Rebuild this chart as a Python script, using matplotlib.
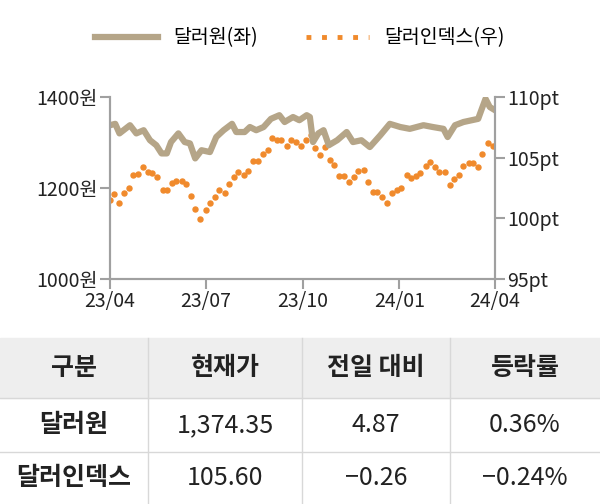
import matplotlib
matplotlib.use("Agg")
import matplotlib.pyplot as plt
import numpy as np
import datetime as dt
from matplotlib.patches import Rectangle
from matplotlib.lines import Line2D

plt.rcParams['font.family'] = ['Noto Sans CJK JP','Noto Sans CJK KR','Noto Sans CJK SC','DejaVu Sans']

krw_days = [0,5,9,19,25,32,38,44,49,54,58,65,71,76,81,87,95,101,108,116,120,128,133,139,146,153,161,166,174,180,187,190,193,198,203,208,216,225,231,239,247,257,266,276,285,298,307,317,321,328,336,344,350,353,357,361,366]
krw = [1338,1341,1320,1338,1320,1327,1305,1294,1276,1276,1301,1320,1301,1298,1265,1283,1279,1312,1327,1341,1323,1323,1334,1327,1334,1352,1360,1345,1356,1349,1360,1356,1301,1320,1327,1294,1305,1323,1301,1305,1290,1316,1341,1334,1330,1338,1334,1330,1312,1338,1345,1349,1352,1371,1396,1378,1371]
dxy = [101.50,101.97,101.23,102.05,102.51,103.61,103.64,104.24,103.83,103.75,103.42,102.32,102.32,102.93,103.09,103.06,102.79,101.83,100.73,99.91,100.68,101.23,101.72,102.32,102.05,102.87,103.42,103.78,103.56,103.89,104.71,104.71,105.34,105.61,106.65,106.49,106.44,105.94,106.49,106.30,105.94,106.49,106.85,105.83,105.20,105.89,104.79,104.38,103.50,103.47,103.01,103.42,103.91,104.02,102.98,102.13,102.19,101.72,101.23,102.10,102.32,102.46,103.56,103.36,103.47,103.75,104.30,104.65,104.24,103.83,103.83,102.73,103.23,103.56,104.30,104.52,104.52,104.19,105.28,106.22,105.97]
xticks = ["23/04","23/07","23/10","24/01","24/04"]
tick_dates = ["2023-04-01","2023-07-01","2023-10-01","2024-01-01","2024-04-01"]
header = ["구분","현재가","전일 대비","등락률"]
rows = [["달러원","1,374.35","4.87","0.36%"],["달러인덱스","105.60","\u22120.26","\u22120.24%"]]

start = dt.date(2023,4,1)
kx = [start+dt.timedelta(days=d) for d in krw_days]
dx = [start+dt.timedelta(days=float(d)) for d in np.linspace(0,364,len(dxy))]

fig = plt.figure(figsize=(6,5.04), dpi=100)
ax = fig.add_axes([110/600, 1-279/504, 385/600, 182/504])
ax2 = ax.twinx()
ax.set_zorder(ax2.get_zorder()+1); ax.patch.set_visible(False)
ax.plot(kx, krw, color='#b5a588', lw=4.5, zorder=2, label='달러원(좌)')
ax2.plot(dx, dxy, ls='none', marker='o', ms=3.6, color='#f08a2c', label='달러인덱스(우)')
ax.set_ylim(1000,1400); ax2.set_ylim(95,110)
ax.set_yticks([1000,1200,1400]); ax.set_yticklabels([f"{v}원" for v in [1000,1200,1400]])
ax2.set_yticks([95,100,105,110]); ax2.set_yticklabels([f"{v}pt" for v in [95,100,105,110]])
td = [dt.datetime.strptime(s,"%Y-%m-%d").date() for s in tick_dates]
ax.set_xticks(td); ax.set_xticklabels(xticks)
ax.set_xlim(td[0], td[-1])
for a in (ax, ax2):
    for s in a.spines.values(): s.set_color('#a0a0a0'); s.set_linewidth(1.5)
    a.spines['top'].set_visible(False)
    a.tick_params(colors='#a0a0a0', labelcolor='#222222', labelsize=14, length=7, width=1.5, pad=2)
hh = [Line2D([],[],color='#b5a588',lw=4.5), Line2D([],[],color='#f08a2c',ls=(0,(1,2.2)),lw=3.5)]
fig.legend(hh, ['달러원(좌)','달러인덱스(우)'], loc='center', bbox_to_anchor=(0.5, 1-38/504), ncol=2, frameon=False, fontsize=14, handlelength=3.2, columnspacing=2.5)

rowy = [338, 398, 452, 504]
colx = [0, 148, 302, 450, 600]
fig.patches.append(Rectangle((0, 1-398/504), 1, 60/504, transform=fig.transFigure, color='#eeeeee', zorder=0))
for x in colx[1:-1]:
    fig.add_artist(Line2D([x/600,x/600],[1-338/504,0], transform=fig.transFigure, color='#d8d8d8', lw=1))
for y in rowy[1:3]:
    fig.add_artist(Line2D([0,1],[1-y/504]*2, transform=fig.transFigure, color='#d8d8d8', lw=1))
for r, row in enumerate([header]+rows):
    yc = 1-(rowy[r]+rowy[r+1])/2/504
    for c, t in enumerate(row):
        xc = (colx[c]+colx[c+1])/2/600
        fig.text(xc, yc, t, ha='center', va='center', fontsize=18,
                 fontweight='bold' if (r==0 or c==0) else 'normal', color='#222222')
fig.savefig('out.png', dpi=100)
